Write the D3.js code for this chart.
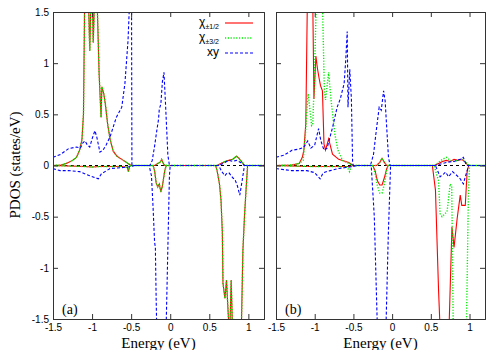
<!DOCTYPE html>
<html>
<head>
<meta charset="utf-8">
<script src="https://cdn.jsdelivr.net/npm/d3@7"></script>
<style>
  body { margin: 0; background: #fff; }
  svg { display: block; }
</style>
</head>
<body>
<svg id="chart" width="500" height="350"></svg>
<script>
// tick values
var xTicks = [-1.5, -1, -0.5, 0, 0.5, 1];
var yTicks = [-1.5, -1, -0.5, 0, 0.5, 1, 1.5];

// panel (a): chi_{+-1/2} and chi_{+-3/2} lie on top of each other
var aChiUp = [[-1.5,0],[-1.4,0.005],[-1.33,0.02],[-1.25,0.05],[-1.2,0.08],[-1.16,0.15],[-1.13,0.25],[-1.11,0.5],[-1.095,1.6],[-1.045,1.6],[-1.03,1.12],[-1.015,1.6],[-0.995,1.6],[-0.985,1.2],[-0.97,1.6],[-0.935,1.6],[-0.91,0.9],[-0.885,0.47],[-0.875,0.77],[-0.865,0.74],[-0.85,0.7],[-0.83,0.6],[-0.8,0.4],[-0.77,0.26],[-0.73,0.14],[-0.68,0.09],[-0.64,0.07],[-0.58,0.04],[-0.54,0.02],[-0.5,0],[-0.2,0],[-0.16,0.02],[-0.13,0.03],[-0.11,0.06],[-0.09,0.02],[-0.07,0],[0.6,0],[0.65,0.02],[0.7,0.04],[0.75,0.05],[0.8,0.06],[0.83,0.08],[0.85,0.09],[0.88,0.07],[0.92,0.03],[0.95,0],[1.2,0]];
var aChiDn = [[-1.5,0],[-1.3,-0.005],[-1.1,-0.01],[-1.0,-0.015],[-0.9,-0.01],[-0.6,-0.01],[-0.55,-0.02],[-0.535,-0.06],[-0.52,-0.01],[-0.5,0],[-0.22,0],[-0.2,-0.05],[-0.18,-0.17],[-0.16,-0.21],[-0.14,-0.18],[-0.12,-0.26],[-0.1,-0.2],[-0.07,-0.05],[-0.05,0],[0.58,0],[0.6,-0.05],[0.63,-0.18],[0.65,-0.34],[0.667,-0.66],[0.675,-1.15],[0.7,-1.3],[0.72,-1.12],[0.74,-1.42],[0.76,-1.7],[0.78,-1.12],[0.8,-1.7],[0.9,-1.8],[0.91,-1.6],[0.93,-0.83],[0.95,-0.5],[0.97,-0.24],[0.99,0],[1.2,0]];
var aXyUp = [[-1.5,0.08],[-1.4,0.11],[-1.3,0.165],[-1.2,0.18],[-1.15,0.17],[-1.12,0.22],[-1.09,0.24],[-1.06,0.2],[-1.03,0.18],[-1.0,0.26],[-0.964,0.34],[-0.94,0.28],[-0.9,0.13],[-0.86,0.15],[-0.82,0.2],[-0.77,0.28],[-0.69,0.47],[-0.62,0.57],[-0.58,0.8],[-0.54,1.22],[-0.52,1.6],[-0.495,1.6],[-0.49,0],[-0.26,0],[-0.23,0.05],[-0.2,0.19],[-0.17,0.35],[-0.15,0.45],[-0.14,0.55],[-0.12,0.6],[-0.1,0.82],[-0.08,0.91],[-0.06,0.6],[-0.03,0.1],[-0.01,0],[0.6,0],[0.65,0.01],[0.7,0.03],[0.75,0.05],[0.8,0.04],[0.85,0.05],[0.9,0.03],[0.95,0],[1.2,0]];
var aXyDn = [[-1.5,-0.03],[-1.41,-0.05],[-1.3,-0.05],[-1.16,-0.06],[-1.03,-0.1],[-0.92,-0.13],[-0.88,-0.08],[-0.77,-0.03],[-0.6,-0.02],[-0.5,-0.01],[-0.45,0],[-0.27,0],[-0.24,-0.1],[-0.22,-0.4],[-0.2,-0.75],[-0.19,-0.8],[-0.18,-1.3],[-0.17,-1.7],[-0.06,-1.7],[-0.05,-1.5],[-0.03,-0.8],[-0.01,-0.1],[0,0],[0.62,0],[0.66,-0.06],[0.7,-0.1],[0.72,-0.08],[0.75,-0.07],[0.78,-0.1],[0.8,-0.12],[0.83,-0.14],[0.86,-0.2],[0.89,-0.29],[0.92,-0.15],[0.95,0],[1.2,0]];

// panel (b)
var bHalfUp = [[-1.5,0],[-1.3,0.005],[-1.2,0.02],[-1.16,0.08],[-1.14,0.15],[-1.115,0.41],[-1.095,1.6],[-1.025,1.6],[-1.01,0.65],[-0.985,1.07],[-0.965,0.95],[-0.945,0.86],[-0.925,0.78],[-0.91,0.75],[-0.9,0.73],[-0.88,0.21],[-0.86,0.15],[-0.82,0.26],[-0.8,0.2],[-0.77,0.11],[-0.69,0.06],[-0.56,0.03],[-0.52,0.01],[-0.5,0],[-0.2,0],[-0.16,0.03],[-0.13,0.07],[-0.1,0.03],[-0.07,0],[0.55,0],[0.6,0.02],[0.65,0.04],[0.7,0.05],[0.75,0.04],[0.8,0.06],[0.85,0.05],[0.9,0.06],[0.95,0.03],[0.98,0],[1.2,0]];
var bHalfDn = [[-1.5,0],[-1.3,-0.005],[-1.1,-0.01],[-0.9,-0.01],[-0.7,-0.01],[-0.55,-0.01],[-0.5,0],[-0.25,0],[-0.22,-0.05],[-0.19,-0.15],[-0.16,-0.19],[-0.13,-0.19],[-0.1,-0.12],[-0.07,-0.03],[-0.05,0],[0.52,0],[0.56,-0.24],[0.58,-0.73],[0.6,-1.22],[0.62,-1.6],[0.735,-1.6],[0.773,-0.6],[0.8,-0.8],[0.84,-0.52],[0.88,-0.29],[0.9,-0.39],[0.945,-0.39],[0.97,-0.05],[0.99,0],[1.2,0]];
var bThreeUp = [[-1.5,0],[-1.3,0.005],[-1.2,0.02],[-1.15,0.05],[-1.12,0.3],[-1.1,0.55],[-1.085,0.7],[-1.065,0.57],[-1.04,0.39],[-1.025,0.4],[-1.0,0.96],[-0.98,1.6],[-0.9,1.6],[-0.875,0.73],[-0.86,0.64],[-0.82,0.91],[-0.79,0.65],[-0.74,0.31],[-0.7,0.15],[-0.64,0.05],[-0.56,0.02],[-0.5,0],[-0.2,0],[-0.16,0.03],[-0.13,0.07],[-0.1,0.03],[-0.07,0],[0.55,0],[0.6,0.03],[0.65,0.06],[0.7,0.08],[0.75,0.05],[0.8,0.04],[0.85,0.05],[0.9,0.06],[0.95,0.03],[1.0,0],[1.2,0]];
var bThreeDn = [[-1.5,0],[-1.3,-0.005],[-1.0,-0.01],[-0.7,-0.01],[-0.58,-0.015],[-0.55,-0.06],[-0.53,-0.01],[-0.5,0],[-0.25,0],[-0.22,-0.08],[-0.19,-0.2],[-0.16,-0.27],[-0.13,-0.27],[-0.1,-0.18],[-0.07,-0.05],[-0.05,0],[0.55,0],[0.56,-0.05],[0.6,-0.15],[0.62,-0.47],[0.645,-0.5],[0.71,-0.45],[0.75,-0.18],[0.77,-0.2],[0.79,-1.6],[0.96,-1.6],[0.985,-0.3],[1.0,0],[1.2,0]];
var bXyUp = [[-1.5,0.08],[-1.4,0.1],[-1.29,0.15],[-1.2,0.16],[-1.14,0.18],[-1.09,0.24],[-1.05,0.17],[-1.0,0.2],[-0.95,0.36],[-0.92,0.24],[-0.88,0.15],[-0.84,0.17],[-0.77,0.37],[-0.71,0.57],[-0.67,0.65],[-0.62,0.8],[-0.6,1.02],[-0.58,1.31],[-0.57,0.57],[-0.547,0.94],[-0.526,0.65],[-0.51,0.02],[-0.5,0],[-0.28,0],[-0.24,0.11],[-0.2,0.37],[-0.167,0.57],[-0.14,0.54],[-0.11,0.73],[-0.09,0.63],[-0.047,0.08],[-0.026,0],[0.55,0],[0.6,0.01],[0.7,0.03],[0.8,0.04],[0.88,0.06],[0.92,0.08],[0.95,0.02],[0.97,0],[1.2,0]];
var bXyDn = [[-1.5,-0.03],[-1.4,-0.04],[-1.3,-0.05],[-1.2,-0.05],[-1.1,-0.05],[-1.0,-0.07],[-0.93,-0.13],[-0.89,-0.07],[-0.8,-0.05],[-0.7,-0.03],[-0.6,-0.02],[-0.5,-0.01],[-0.45,0],[-0.27,0],[-0.23,-0.5],[-0.19,-1.6],[-0.08,-1.6],[-0.05,-0.7],[-0.02,0],[0.56,0],[0.62,-0.11],[0.67,-0.08],[0.69,-0.065],[0.73,-0.11],[0.78,-0.06],[0.84,-0.1],[0.88,-0.13],[0.92,-0.18],[0.95,-0.1],[0.99,0],[1.2,0]];

var styles = {
  half: { color: '#ff0000', dash: null, width: 1.1 },
  three: { color: '#00ee00', dash: '1.2,1.6', width: 1.4 },
  xy: { color: '#0000ff', dash: '3,2', width: 1.1 }
};

var panels = [
  { id: 'a', left: 53, right: 264, label: '(a)', yLabels: true,
    series: [['half', aChiUp], ['half', aChiDn], ['three', aChiUp], ['three', aChiDn], ['xy', aXyUp], ['xy', aXyDn]] },
  { id: 'b', left: 276, right: 485, label: '(b)', yLabels: false,
    series: [['half', bHalfUp], ['half', bHalfDn], ['three', bThreeUp], ['three', bThreeDn], ['xy', bXyUp], ['xy', bXyDn]] }
];

var plotTop = 12, plotBottom = 319;
var svg = d3.select('#chart');
var fmt = function (d) { return String(d); };

panels.forEach(function (p) {
  var x = d3.scaleLinear().domain([-1.5, 1.2]).range([p.left, p.right]);
  var y = d3.scaleLinear().domain([-1.5, 1.5]).range([plotBottom, plotTop]);
  var g = svg.append('g');

  g.append('clipPath').attr('id', 'clip-' + p.id)
    .append('rect').attr('x', p.left).attr('y', plotTop)
    .attr('width', p.right - p.left).attr('height', plotBottom - plotTop);

  // zero line
  g.append('line')
    .attr('x1', p.left).attr('x2', p.right)
    .attr('y1', y(0)).attr('y2', y(0))
    .attr('stroke', '#000').attr('stroke-width', 1).attr('stroke-dasharray', '3,3');

  var line = d3.line().x(function (d) { return x(d[0]); }).y(function (d) { return y(d[1]); });
  var plot = g.append('g').attr('clip-path', 'url(#clip-' + p.id + ')');
  p.series.forEach(function (s) {
    var st = styles[s[0]];
    plot.append('path').datum(s[1])
      .attr('d', line)
      .attr('fill', 'none')
      .attr('stroke', st.color)
      .attr('stroke-width', st.width)
      .attr('stroke-dasharray', st.dash);
  });

  // axes with inside ticks on all four sides
  var axB = g.append('g').attr('transform', 'translate(0,' + plotBottom + ')')
    .call(d3.axisBottom(x).tickValues(xTicks).tickSize(-5).tickPadding(5).tickFormat(fmt));
  var axT = g.append('g').attr('transform', 'translate(0,' + plotTop + ')')
    .call(d3.axisTop(x).tickValues(xTicks).tickSize(-5).tickFormat(''));
  var axL = g.append('g').attr('transform', 'translate(' + p.left + ',0)')
    .call(d3.axisLeft(y).tickValues(yTicks).tickSize(-5).tickPadding(4).tickFormat(p.yLabels ? fmt : ''));
  var axR = g.append('g').attr('transform', 'translate(' + p.right + ',0)')
    .call(d3.axisRight(y).tickValues(yTicks).tickSize(-5).tickFormat(''));
  [axB, axT, axL, axR].forEach(function (a) {
    a.select('.domain').attr('stroke', '#333');
    a.selectAll('.tick line').attr('stroke', '#333');
    a.selectAll('text').attr('font-family', 'Liberation Sans, Arial, sans-serif').attr('font-size', 10).attr('fill', '#000');
  });

  g.append('text')
    .attr('x', p.left + 9).attr('y', plotBottom - 5)
    .attr('font-family', 'Liberation Serif, Times New Roman, serif').attr('font-size', 14)
    .text(p.label);

  g.append('text')
    .attr('x', (p.left + p.right) / 2).attr('y', 348)
    .attr('text-anchor', 'middle')
    .attr('font-family', 'Liberation Serif, Times New Roman, serif').attr('font-size', 15)
    .text('Energy (eV)');
});

svg.append('text')
  .attr('transform', 'translate(20,165) rotate(-90)')
  .attr('text-anchor', 'middle')
  .attr('font-family', 'Liberation Serif, Times New Roman, serif').attr('font-size', 15)
  .text('PDOS (states/eV)');

// legend
var legend = [
  { key: 'half', sub: '\u00b11/2', name: '\u03c7' },
  { key: 'three', sub: '\u00b13/2', name: '\u03c7' },
  { key: 'xy', sub: '', name: 'xy' }
];
var lg = svg.append('g');
legend.forEach(function (d, i) {
  var ly = 23 + i * 15;
  var st = styles[d.key];
  var t = lg.append('text')
    .attr('x', 219).attr('y', ly + 3)
    .attr('text-anchor', 'end')
    .attr('font-family', 'Liberation Sans, Arial, sans-serif').attr('font-size', 12);
  t.append('tspan').text(d.name);
  if (d.sub) t.append('tspan').attr('font-size', 7).attr('dy', 2.5).text(d.sub);
  lg.append('line')
    .attr('x1', 225).attr('x2', 253).attr('y1', ly).attr('y2', ly)
    .attr('stroke', st.color).attr('stroke-width', st.width)
    .attr('stroke-dasharray', st.dash);
});
</script>
</body>
</html>
